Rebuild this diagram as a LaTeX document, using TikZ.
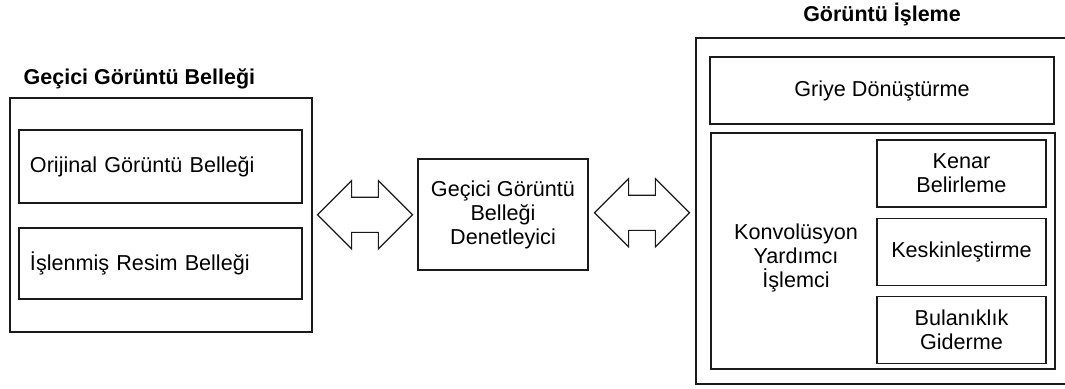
\documentclass[tikz,border=0pt]{standalone}
\usepackage{fontspec}
\setmainfont{Liberation Sans}
\usetikzlibrary{shapes.arrows, positioning, calc}
\definecolor{BoxLine}{HTML}{1A1A1A}

\begin{document}
\begin{tikzpicture}[x=0.75pt, y=-0.75pt, node distance=7.5pt,
        membox/.style={rectangle, draw=BoxLine, line width=0.9pt, inner sep=0pt, align=center, font=\fontsize{16.2}{18}\selectfont},
        leftbox/.style={membox, align=left, text width=195.75pt, inner xsep=8.25pt, minimum height=54.75pt},
        stagebox/.style={membox, minimum width=126.75pt, minimum height=50.25pt},
        grouptitle/.style={font=\fontsize{16.1}{18}\selectfont\bfseries},
        busarrow/.style={double arrow, draw=BoxLine, line width=0.9pt, inner xsep=0pt, inner ysep=12.75pt, minimum height=71.25pt, double arrow head extend=12.4pt}]

        \useasboundingbox (0,0) rectangle (1065,389);

        % sol blok
        \node[membox, minimum width=226.5pt, minimum height=175.5pt] (bellek) at (161,215) {};
        \node[grouptitle, anchor=base west] (bellektitle) at (19,84) {Geçici Görüntü Belleği};
        \node[leftbox] (orijinal) at (160.5,166.5) {Orijinal Görüntü Belleği};
        \node[leftbox, minimum height=53.25pt] (islenmis) at (160.5,263.5) {İşlenmiş Resim Belleği};

        % orta blok
        \node[membox, minimum width=127.5pt, minimum height=83.25pt] (denet) at (503,214.5) {Geçici Görüntü\\Belleği\\Denetleyici};

        % sag blok
        \node[membox, minimum width=280.5pt, minimum height=259.5pt] (isleme) at (883,211) {};
        \node[grouptitle] (islemetitle) at (882,15) {Görüntü İşleme};
        \node[membox, minimum width=258pt, minimum height=50.25pt] (griye) at (882,90.5) {Griye Dönüştürme};
        \node[membox, minimum width=258pt, minimum height=177pt] (konv) at (883,251) {};
        \node[membox, draw=none] (konvtext) at (796,258) {Konvolüsyon\\Yardımcı\\İşlemci};
        \node[stagebox] (kenar) at (961.5,173.5) {Kenar\\Belirleme};
        \node[stagebox, below=of kenar] (keskin) {Keskinleştirme};
        \node[stagebox, below=of keskin] (bulanik) {Bulanıklık\\Giderme};

        % baglantilar
        \node[busarrow] (arrL) at ($(bellek.east)!0.5!(denet.west)$) {};
        \node[busarrow] (arrR) at ($(denet.east)!0.5!(isleme.west)$) {};
    \end{tikzpicture}
\end{document}
